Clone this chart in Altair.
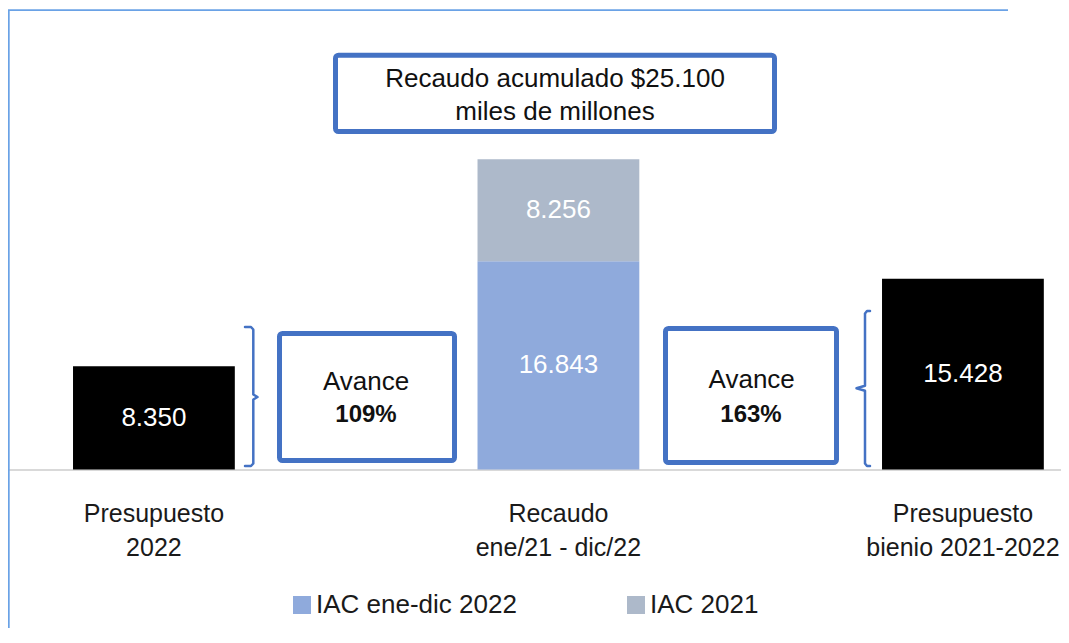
import altair as alt
import pandas as pd

FONT = "Liberation Sans, Arial, sans-serif"

# ---- data ----
categories = ["Presupuesto|2022", "Recaudo|ene/21 - dic/22", "Presupuesto|bienio 2021-2022"]
bar_cats = ["Presupuesto|2022", "Recaudo|ene/21 - dic/22", "Recaudo|ene/21 - dic/22", "Presupuesto|bienio 2021-2022"]
bar_series = ["Presupuesto", "IAC ene-dic 2022", "IAC 2021", "Presupuesto"]
bar_values = [8.350, 16.843, 8.256, 15.428]
bar_order = [0, 0, 1, 0]
legend_series = ["IAC ene-dic 2022", "IAC 2021"]
series_domain = ["IAC ene-dic 2022", "IAC 2021", "Presupuesto"]
series_colors = ["#8faadc", "#adb9ca", "#000000"]

title_lines = ["Recaudo acumulado $25.100", "miles de millones"]
avance_label = "Avance"
avance_values = ["109%", "163%"]

bars_df = pd.DataFrame({"cat": bar_cats, "series": bar_series,
                        "value": bar_values, "ord": bar_order})

# ---- annotation layout (plot-area pixels) ----
boxes_df = pd.DataFrame({
    "x1": [327.5, 271.5, 657.5],
    "x2": [766.5, 446.5, 828.5],
    "y1": [45.7, 324.0, 319.0],
    "y2": [122.0, 451.0, 453.0],
})
normal_text_df = pd.DataFrame({
    "t": title_lines + [avance_label, avance_label],
    "px": [547, 547, 358, 743.7],
    "py": [69.5, 102.2, 372.2, 370.5],
})
bold_text_df = pd.DataFrame({
    "t": avance_values,
    "px": [358, 743],
    "py": [405.5, 405.5],
})
brace_df = pd.DataFrame({
    "id": ["a"] * 9 + ["b"] * 9,
    "k": list(range(9)) * 2,
    "px": [237, 243, 245.3, 245.3, 249.5, 245.3, 245.3, 243, 237,
           862, 859, 857, 857, 848.5, 857, 857, 859, 862],
    "py": [317.5, 317.5, 320, 385, 387.5, 390, 454, 456.5, 456.5,
           301.5, 301.5, 304, 376.3, 378.8, 381.3, 454, 456.5, 456.5],
})

W, H = 1053, 460
YMAX = 37.22

xenc = alt.X("cat:N", sort=categories,
             scale=alt.Scale(paddingInner=0.6, paddingOuter=0.1016, align=0.791),
             axis=alt.Axis(title=None, labelExpr="split(datum.label, '|')",
                           labelAngle=0, labelFontSize=25, labelFont=FONT,
                           labelColor="#1a1a1a", labelLineHeight=34,
                           labelPadding=32, ticks=False, domainColor="#d9d9d9",
                           domainWidth=2, labelLimit=400, grid=False))

base = alt.Chart(bars_df)
bars = base.mark_bar().encode(
    x=xenc,
    y=alt.Y("value:Q", stack="zero", scale=alt.Scale(domain=[0, YMAX], nice=False), axis=None),
    color=alt.Color("series:N",
                    scale=alt.Scale(domain=series_domain, range=series_colors),
                    legend=alt.Legend(title=None, orient="none", legendX=281, legendY=582.5,
                                      direction="horizontal", columns=2, columnPadding=106,
                                      symbolType="square", symbolSize=324,
                                      symbolStrokeWidth=0, labelFontSize=26,
                                      labelFont=FONT, labelColor="#1a1a1a",
                                      labelOffset=1, labelLimit=400,
                                      values=legend_series, padding=0)),
    order=alt.Order("ord:Q"),
)
labels = base.transform_stack(
    stack="value", groupby=["cat"], as_=["y0", "y1"], sort=[alt.SortField("ord")]
).transform_calculate(
    mid="(datum.y0 + datum.y1) / 2", lbl="format(datum.value, '.3f')"
).mark_text(color="white", fontSize=26, font=FONT, baseline="middle").encode(
    x=alt.X("cat:N", sort=categories),
    y=alt.Y("mid:Q", axis=None),
    text="lbl:N",
)
data_layer = alt.layer(bars, labels)

border_data = pd.DataFrame({"a": [0]})
border_left = alt.Chart(border_data).mark_rule(color="#6aa2e6", strokeWidth=1.7).encode(
    x=alt.value(0.85), y=alt.value(0.7), y2=alt.value(900))
border_top = alt.Chart(border_data).mark_rule(color="#6aa2e6", strokeWidth=1.7).encode(
    x=alt.value(0), x2=alt.value(1000), y=alt.value(0.7))

boxes = alt.Chart(boxes_df).mark_rect(
    fill="white", stroke="#4472c4", strokeWidth=5, cornerRadius=3
).encode(
    x=alt.X("x1:Q", scale=None, axis=None), x2="x2:Q",
    y=alt.Y("y1:Q", scale=None, axis=None), y2="y2:Q",
)
braces = alt.Chart(brace_df).mark_line(
    color="#4472c4", strokeWidth=2.5, strokeCap="round", strokeJoin="round"
).encode(
    x=alt.X("px:Q", scale=None, axis=None),
    y=alt.Y("py:Q", scale=None, axis=None),
    detail="id:N", order="k:Q",
)
ntext = alt.Chart(normal_text_df).mark_text(
    fontSize=26, font=FONT, color="#111111", baseline="middle", align="center"
).encode(
    x=alt.X("px:Q", scale=None, axis=None),
    y=alt.Y("py:Q", scale=None, axis=None),
    text="t:N",
)
btext = alt.Chart(bold_text_df).mark_text(
    fontSize=24, font=FONT, fontWeight="bold", color="#111111", baseline="middle", align="center"
).encode(
    x=alt.X("px:Q", scale=None, axis=None),
    y=alt.Y("py:Q", scale=None, axis=None),
    text="t:N",
)

chart = alt.layer(border_left, border_top, data_layer, boxes, braces, ntext, btext).resolve_scale(
    x="independent", y="independent"
).properties(
    width=W, height=H,
    autosize=alt.AutoSizeParams(type="none"),
    padding={"left": 0, "top": 1.5, "right": 0, "bottom": 158.5},
).configure_view(stroke=None)

chart.save("out.html", embed_options={"renderer": "svg", "actions": False})
